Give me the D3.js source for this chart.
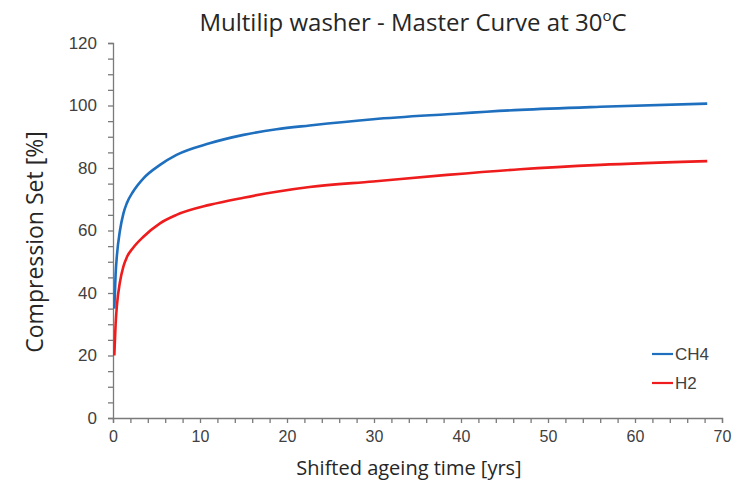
<!DOCTYPE html>
<html><head><meta charset="utf-8">
<script src="https://cdn.jsdelivr.net/npm/d3@7"></script>
<style>body{margin:0;background:#fff}svg{display:block}text{font-family:"Open Sans","Noto Sans",sans-serif}</style>
</head><body>
<svg id="c" width="752" height="484"></svg>
<script>
const time = [0.15, 0.3, 0.45, 0.8, 1.2, 1.6, 2.3, 3.5, 5.4, 7.3, 11.1, 15, 18.8, 22.6, 29.9, 38.4, 46.8, 56, 68.3];
const ch4  = [35, 46, 52, 60, 65.5, 68.8, 72.4, 76.7, 81, 84.2, 87.9, 90.6, 92.4, 93.6, 95.6, 97.2, 98.6, 99.6, 100.6];
const h2   = [20, 30, 36, 43.5, 48.5, 51.5, 54.4, 58, 62.3, 65, 68.2, 70.5, 72.4, 73.9, 75.7, 77.8, 79.6, 81, 82.2];
const seriesNames = ["CH4", "H2"];
const seriesColors = ["#1f6fbf", "#ee1c1c"];
const xTickLabels = [0, 10, 20, 30, 40, 50, 60, 70];
const yTickLabels = [0, 20, 40, 60, 80, 100, 120];

const svg = d3.select("#c");
const x = d3.scaleLinear().domain([0, 70]).range([113, 722]);
const y = d3.scaleLinear().domain([0, 120]).range([418, 43]);
const axisColor = "#7a7a7a", labelColor = "#404040";

// minor ticks
svg.append("g").attr("transform", "translate(0,418)")
  .call(d3.axisBottom(x).tickValues(d3.range(0, 71, 2)).tickSize(5).tickFormat(""))
  .call(g => { g.select(".domain").attr("stroke", axisColor).attr("stroke-width", 1.3); g.selectAll("line").attr("stroke", axisColor).attr("stroke-width", 1.3); });
svg.append("g").attr("transform", "translate(113,0)")
  .call(d3.axisLeft(y).tickValues(d3.range(0, 121, 5)).tickSize(5).tickFormat(""))
  .call(g => { g.select(".domain").attr("stroke", axisColor).attr("stroke-width", 1.3); g.selectAll("line").attr("stroke", axisColor).attr("stroke-width", 1.3); });

// tick labels
svg.append("g").attr("transform", "translate(0,418)")
  .call(d3.axisBottom(x).tickValues(xTickLabels).tickSize(0).tickPadding(13))
  .call(g => { g.select(".domain").remove(); g.selectAll("text").attr("fill", labelColor).style("font-size", "16px").style("font-family", "'Liberation Sans Narrow','Liberation Sans',Arial,sans-serif"); });
svg.append("g").attr("transform", "translate(113,0)")
  .call(d3.axisLeft(y).tickValues(yTickLabels).tickSize(0).tickPadding(16))
  .call(g => { g.select(".domain").remove(); g.selectAll("text").attr("fill", labelColor).style("font-size", "17px").style("font-family", "'Liberation Sans',Arial,sans-serif"); });

// lines
const line = d3.line().x(d => x(d[0])).y(d => y(d[1])).curve(d3.curveMonotoneX);
[ch4, h2].forEach((vals, i) => {
  svg.append("path").datum(time.map((t, j) => [t, vals[j]]))
    .attr("d", line).attr("fill", "none").attr("stroke", seriesColors[i]).attr("stroke-width", 2.6);
});

// legend
seriesNames.forEach((n, i) => {
  const ly = 354 + i * 29;
  svg.append("line").attr("x1", 652).attr("x2", 673).attr("y1", ly).attr("y2", ly)
    .attr("stroke", seriesColors[i]).attr("stroke-width", 2.2);
  svg.append("text").attr("x", 675).attr("y", ly + 6).text(n).attr("fill", labelColor)
    .style("font-size", "17px").style("font-family", "'Liberation Sans',Arial,sans-serif");
});

// title
const title = svg.append("text").attr("x", 413).attr("y", 31).attr("text-anchor", "middle")
  .attr("fill", "#262626").style("font-size", "24px");
title.append("tspan").text("Multilip washer - Master Curve at 30");
title.append("tspan").text("o").attr("dy", -10).style("font-size", "15px");
title.append("tspan").text("C").attr("dy", 10);

// axis titles
svg.append("text").attr("x", 409).attr("y", 475).attr("text-anchor", "middle")
  .attr("fill", "#262626").style("font-size", "20px").text("Shifted ageing time [yrs]");
svg.append("text").attr("transform", "translate(43,242) rotate(-90)").attr("text-anchor", "middle")
  .attr("fill", "#262626").style("font-size", "23px").text("Compression Set [%]");
</script>
</body></html>
